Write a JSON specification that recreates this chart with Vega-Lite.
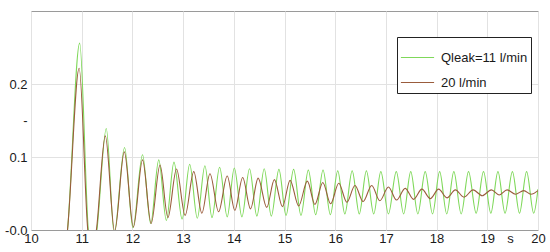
{
  "$schema": "https://vega.github.io/schema/vega-lite/v6.json",
  "autosize": {"type": "none"},
  "width": 507,
  "height": 219,
  "padding": {"left": 31, "top": 11, "right": 12, "bottom": 22},
  "background": "white",
  "config": {
    "font": "Liberation Sans",
    "view": {"stroke": "#9a9a9a", "strokeWidth": 1}
  },
  "datasets": {
    "green": [
      {"t": 10.55, "v": -0.08}, {"t": 10.72, "v": 0.0}, {"t": 10.96, "v": 0.256}, {"t": 11.13, "v": 0.0},
      {"t": 11.21, "v": -0.04}, {"t": 11.30, "v": 0.0}, {"t": 11.485, "v": 0.139}, {"t": 11.64, "v": -0.004},
      {"t": 11.846, "v": 0.113}, {"t": 12.01, "v": 0.003}, {"t": 12.20, "v": 0.103}, {"t": 12.36, "v": 0.009},
      {"t": 12.52, "v": 0.096}, {"t": 12.67, "v": 0.013}, {"t": 12.82, "v": 0.093}, {"t": 12.98, "v": 0.015},
      {"t": 13.13, "v": 0.090}, {"t": 13.28, "v": 0.016}, {"t": 13.43, "v": 0.088}, {"t": 13.57, "v": 0.017},
      {"t": 13.72, "v": 0.086}, {"t": 13.87, "v": 0.018}, {"t": 14.01, "v": 0.085}, {"t": 14.16, "v": 0.018},
      {"t": 14.31, "v": 0.084}, {"t": 14.455, "v": 0.019}, {"t": 14.60, "v": 0.084}, {"t": 14.74, "v": 0.019},
      {"t": 14.89, "v": 0.083}, {"t": 15.03, "v": 0.020}, {"t": 15.18, "v": 0.083}, {"t": 15.325, "v": 0.020},
      {"t": 15.47, "v": 0.082}, {"t": 15.615, "v": 0.021}, {"t": 15.76, "v": 0.082}, {"t": 15.905, "v": 0.021},
      {"t": 16.05, "v": 0.081}, {"t": 16.19, "v": 0.022}, {"t": 16.335, "v": 0.081}, {"t": 16.475, "v": 0.022},
      {"t": 16.615, "v": 0.081}, {"t": 16.76, "v": 0.022}, {"t": 16.90, "v": 0.080}, {"t": 17.05, "v": 0.022},
      {"t": 17.205, "v": 0.080}, {"t": 17.35, "v": 0.022}, {"t": 17.49, "v": 0.080}, {"t": 17.63, "v": 0.022},
      {"t": 17.775, "v": 0.080}, {"t": 17.92, "v": 0.022}, {"t": 18.06, "v": 0.080}, {"t": 18.20, "v": 0.022},
      {"t": 18.34, "v": 0.080}, {"t": 18.485, "v": 0.022}, {"t": 18.63, "v": 0.080}, {"t": 18.78, "v": 0.023},
      {"t": 18.925, "v": 0.080}, {"t": 19.07, "v": 0.023}, {"t": 19.21, "v": 0.080}, {"t": 19.35, "v": 0.023},
      {"t": 19.495, "v": 0.080}, {"t": 19.635, "v": 0.023}, {"t": 19.775, "v": 0.080}, {"t": 19.915, "v": 0.023},
      {"t": 20.0, "v": 0.056}
    ],
    "brown": [
      {"t": 10.55, "v": -0.08}, {"t": 10.72, "v": 0.0}, {"t": 10.95, "v": 0.2215}, {"t": 11.12, "v": 0.0},
      {"t": 11.20, "v": -0.035}, {"t": 11.29, "v": 0.0}, {"t": 11.466, "v": 0.129}, {"t": 11.65, "v": -0.002},
      {"t": 11.84, "v": 0.107}, {"t": 12.02, "v": 0.004}, {"t": 12.20, "v": 0.096}, {"t": 12.37, "v": 0.009},
      {"t": 12.545, "v": 0.089}, {"t": 12.70, "v": 0.017}, {"t": 12.87, "v": 0.0835}, {"t": 13.04, "v": 0.020},
      {"t": 13.21, "v": 0.080}, {"t": 13.37, "v": 0.023}, {"t": 13.53, "v": 0.077}, {"t": 13.70, "v": 0.025},
      {"t": 13.87, "v": 0.074}, {"t": 14.02, "v": 0.027}, {"t": 14.175, "v": 0.072}, {"t": 14.33, "v": 0.029},
      {"t": 14.48, "v": 0.071}, {"t": 14.65, "v": 0.031}, {"t": 14.80, "v": 0.069}, {"t": 14.96, "v": 0.032},
      {"t": 15.11, "v": 0.068}, {"t": 15.28, "v": 0.033}, {"t": 15.45, "v": 0.067}, {"t": 15.60, "v": 0.035},
      {"t": 15.755, "v": 0.065}, {"t": 15.91, "v": 0.036}, {"t": 16.07, "v": 0.064}, {"t": 16.23, "v": 0.038},
      {"t": 16.39, "v": 0.061}, {"t": 16.55, "v": 0.039}, {"t": 16.72, "v": 0.061}, {"t": 16.88, "v": 0.040},
      {"t": 17.05, "v": 0.059}, {"t": 17.21, "v": 0.041}, {"t": 17.38, "v": 0.057}, {"t": 17.545, "v": 0.042},
      {"t": 17.71, "v": 0.056}, {"t": 17.875, "v": 0.043}, {"t": 18.04, "v": 0.056}, {"t": 18.205, "v": 0.044},
      {"t": 18.37, "v": 0.055}, {"t": 18.54, "v": 0.045}, {"t": 18.72, "v": 0.055}, {"t": 18.90, "v": 0.047},
      {"t": 19.08, "v": 0.055}, {"t": 19.235, "v": 0.048}, {"t": 19.39, "v": 0.055}, {"t": 19.555, "v": 0.049},
      {"t": 19.72, "v": 0.054}, {"t": 19.86, "v": 0.049}, {"t": 20.0, "v": 0.054}
    ]
  },
  "encoding": {
    "x": {
      "field": "t", "type": "quantitative",
      "scale": {"domain": [10, 20], "nice": false, "zero": false},
      "axis": {
        "title": null,
        "values": [10, 11, 12, 13, 14, 15, 16, 17, 18, 19, 19.45, 20],
        "labelExpr": "abs(datum.value - 19.45) < 0.01 ? 's' : format(datum.value, 'd')",
        "labelFontSize": 13, "labelColor": "#1a1a1a", "labelPadding": 2,
        "labelFlush": false, "labelOverlap": false,
        "domain": false, "ticks": false,
        "grid": true, "gridColor": "#e2e2e2",
        "gridOpacity": {"condition": {"test": "abs(datum.value - 19.45) < 0.01", "value": 0}, "value": 1}
      }
    },
    "y": {
      "field": "v", "type": "quantitative",
      "scale": {"domain": [0, 0.3], "nice": false, "zero": false},
      "axis": {
        "title": null,
        "values": [0, 0.1, 0.15, 0.2],
        "labelExpr": "datum.value == 0 ? '-0.0' : (abs(datum.value - 0.15) < 0.001 ? '-' : format(datum.value, '.1f'))",
        "labelFontSize": 13, "labelColor": "#1a1a1a", "labelPadding": 4,
        "labelFlush": false, "labelOverlap": false,
        "domain": false, "ticks": false,
        "grid": true, "gridColor": "#e2e2e2",
        "gridOpacity": {"condition": {"test": "abs(datum.value - 0.15) < 0.001 || datum.value == 0", "value": 0}, "value": 1}
      }
    },
    "color": {
      "field": "s", "type": "nominal",
      "scale": {"domain": ["Qleak=11 l/min", "20 l/min"], "range": ["#7fd85a", "#9a5c3c"]},
      "legend": {
        "title": null, "orient": "none", "legendX": 366, "legendY": 26,
        "direction": "vertical",
        "symbolType": "stroke", "symbolSize": 1100, "symbolStrokeWidth": 1.2,
        "labelFontSize": 13, "labelColor": "#1a1a1a", "labelOffset": 6,
        "strokeColor": "#222", "fillColor": "white", "padding": 3, "rowPadding": 0
      }
    }
  },
  "layer": [
    {
      "data": {"name": "green"},
      "transform": [{"calculate": "'Qleak=11 l/min'", "as": "s"}],
      "mark": {"type": "line", "interpolate": "monotone", "strokeWidth": 1.1, "clip": true}
    },
    {
      "data": {"name": "brown"},
      "transform": [{"calculate": "'20 l/min'", "as": "s"}],
      "mark": {"type": "line", "interpolate": "monotone", "strokeWidth": 1.1, "clip": true}
    }
  ]
}
